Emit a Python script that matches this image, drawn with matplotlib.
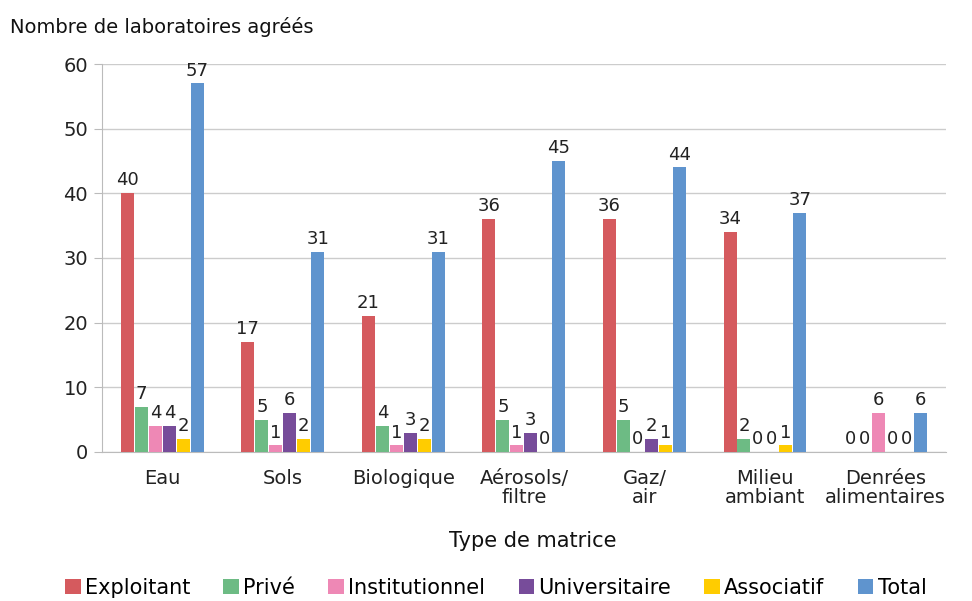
import numpy as np
import matplotlib.pyplot as plt

plt.rcParams['font.family'] = ['Liberation Sans Narrow', 'DejaVu Sans']

categories = ["Eau", "Sols", "Biologique", "Aérosols/\nfiltre", "Gaz/\nair",
              "Milieu\nambiant", "Denrées\nalimentaires"]
series_names = ["Exploitant", "Privé", "Institutionnel", "Universitaire",
                "Associatif", "Total"]
exploitant = [40, 17, 21, 36, 36, 34, 0]
prive = [7, 5, 4, 5, 5, 2, 0]
institutionnel = [4, 1, 1, 1, 0, 0, 6]
universitaire = [4, 6, 3, 3, 2, 0, 0]
associatif = [2, 2, 2, 0, 1, 1, 0]
total = [57, 31, 31, 45, 44, 37, 6]
colors = ["#D55A5E", "#6DBB84", "#EE88B5", "#774C9A", "#FFCC00", "#5F94CE"]

series = [exploitant, prive, institutionnel, universitaire, associatif, total]

fig = plt.figure(figsize=(9.72, 6.01), dpi=100)
ax = fig.add_axes([0.105, 0.248, 0.868, 0.6455])

x = np.arange(len(categories))
w = 0.116
for i, (vals, name, col) in enumerate(zip(series, series_names, colors)):
    pos = x + (i - 2.5) * w
    bars = ax.bar(pos, vals, width=w * 0.93, color=col, label=name, zorder=3)
    for b, v in zip(bars, vals):
        ax.text(b.get_x() + b.get_width() / 2, v + 0.6, str(v),
                ha="center", va="bottom", fontsize=13, color="#222222")

ax.set_ylim(0, 60)
ax.set_xlim(-0.5, len(categories) - 0.5)
ax.set_yticks(range(0, 61, 10))
ax.set_xticks(x)
ax.set_xticklabels(categories, fontsize=14, linespacing=1.05)
ax.tick_params(axis="y", labelsize=14, length=6, color="#bbbbbb", pad=4,
               labelcolor="#222222")
ax.tick_params(axis="x", length=0, pad=12, labelcolor="#222222")
ax.grid(axis="y", color="#cccccc", linewidth=1, zorder=0)
for s in ["top", "right"]:
    ax.spines[s].set_visible(False)
ax.spines["left"].set_color("#bbbbbb")
ax.spines["bottom"].set_color("#bbbbbb")

fig.text(0.01, 0.955, "Nombre de laboratoires agréés", fontsize=14,
         ha="left", va="center", color="#111111")
fig.text(0.548, 0.1, "Type de matrice", fontsize=15, ha="center",
         va="center", color="#111111")

leg = fig.legend(loc="center", bbox_to_anchor=(0.51, 0.022), ncol=6,
                 frameon=False, fontsize=15, handlelength=0.75,
                 handleheight=0.75, handletextpad=0.2, columnspacing=1.6)

fig.savefig("out.png", dpi=100)
